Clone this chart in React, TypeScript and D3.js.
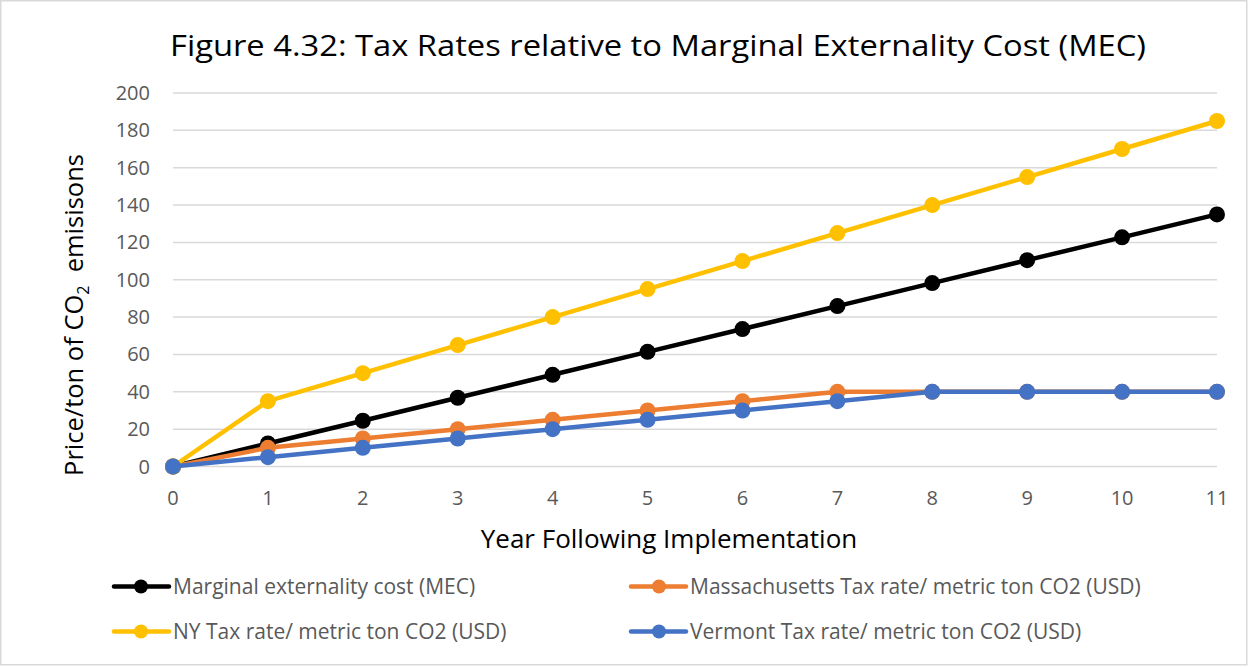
import React from "react";
import * as d3 from "d3";

const years = [0, 1, 2, 3, 4, 5, 6, 7, 8, 9, 10, 11];
const mecValues = [0, 12.3, 24.5, 36.8, 49.1, 61.4, 73.6, 85.9, 98.2, 110.5, 122.7, 135];
const maValues = [0, 10, 15, 20, 25, 30, 35, 40, 40, 40, 40, 40];
const nyValues = [0, 35, 50, 65, 80, 95, 110, 125, 140, 155, 170, 185];
const vtValues = [0, 5, 10, 15, 20, 25, 30, 35, 40, 40, 40, 40];
const yTicks = [0, 20, 40, 60, 80, 100, 120, 140, 160, 180, 200];

const seriesNames = [
  "Marginal externality cost (MEC)",
  "Massachusetts Tax rate/ metric ton CO2 (USD)",
  "NY Tax rate/ metric ton CO2 (USD)",
  "Vermont Tax rate/ metric ton CO2 (USD)",
];
const seriesColors = ["#000000", "#ED7D31", "#FFC000", "#4472C4"];
const seriesValues = [mecValues, maValues, nyValues, vtValues];

const W = 1249;
const H = 667;
const FONT = "'Open Sans', sans-serif";

export default function App() {
  const x = d3.scaleLinear().domain([0, 11]).range([173, 1217]);
  const y = d3.scaleLinear().domain([0, 200]).range([466.5, 93]);
  const line = d3
    .line<number>()
    .x((_, i) => x(years[i]))
    .y((d) => y(d));

  const legendPos = [
    { lx: 114, ly: 586.5, cx: 141, lx2: 169, tx: 173 },
    { lx: 631, ly: 586.5, cx: 659, lx2: 686, tx: 690 },
    { lx: 114, ly: 631.5, cx: 141, lx2: 169, tx: 173 },
    { lx: 631, ly: 631.5, cx: 659, lx2: 686, tx: 690 },
  ];

  return (
    <svg
      width={W}
      height={H}
      style={{ position: "absolute", left: 0, top: 0, fontFamily: FONT }}
    >
      <rect x={0} y={0} width={W} height={H} fill="#ffffff" />
      <rect x={0.75} y={0.75} width={W - 3} height={H - 3} fill="none" stroke="#d9d9d9" strokeWidth={1.5} />
      <text
        x={170}
        y={56}
        fontSize={30}
        fill="#000000"
        textLength={976}
        lengthAdjust="spacingAndGlyphs"
      >
        Figure 4.32: Tax Rates relative to Marginal Externality Cost (MEC)
      </text>
      {yTicks.map((t) => (
        <g key={t}>
          <line x1={x(0)} x2={x(11)} y1={y(t)} y2={y(t)} stroke="#d9d9d9" strokeWidth={1.5} />
          <text x={150} y={y(t) + 7} textAnchor="end" fontSize={20} fill="#595959">
            {t}
          </text>
        </g>
      ))}
      {years.map((yr) => (
        <text key={yr} x={x(yr)} y={505} textAnchor="middle" fontSize={20} fill="#595959">
          {yr}
        </text>
      ))}
      <text x={669} y={548} textAnchor="middle" fontSize={26} fill="#000000">
        Year Following Implementation
      </text>
      <text
        transform={`translate(83, 315) rotate(-90)`}
        textAnchor="middle"
        fontSize={25.5}
        fill="#000000"
      >
        Price/ton of CO
        <tspan fontSize={16} dy={6}>2</tspan>
        <tspan dy={-6}>{"\u00a0 emisisons"}</tspan>
      </text>
      {seriesValues.map((vals, si) => (
        <g key={si}>
          <path d={line(vals) || ""} fill="none" stroke={seriesColors[si]} strokeWidth={4.5} strokeLinejoin="round" />
          {vals.map((v, i) => (
            <circle key={i} cx={x(years[i])} cy={y(v)} r={8} fill={seriesColors[si]} />
          ))}
        </g>
      ))}
      {seriesNames.map((name, si) => {
        const { lx, ly, cx, lx2, tx } = legendPos[si];
        return (
          <g key={name}>
            <line x1={lx} x2={lx2} y1={ly} y2={ly} stroke={seriesColors[si]} strokeWidth={4.5} strokeLinecap="round" />
            <circle cx={cx} cy={ly} r={7} fill={seriesColors[si]} />
            <text x={tx} y={ly + 7} fontSize={21} fill="#595959">
              {name}
            </text>
          </g>
        );
      })}
    </svg>
  );
}
